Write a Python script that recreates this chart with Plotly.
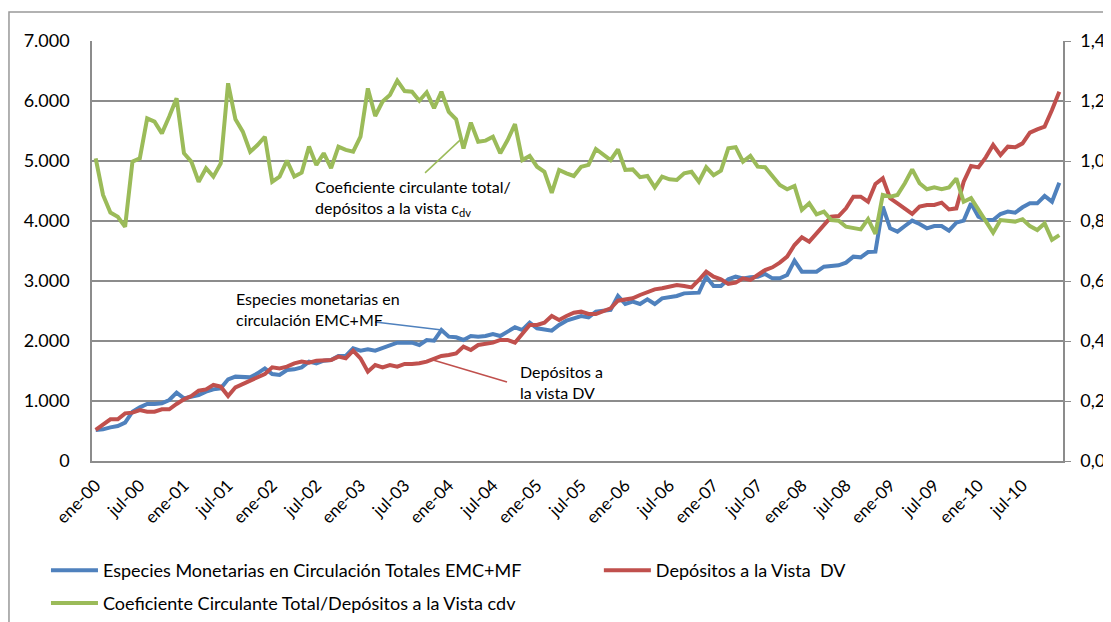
import plotly.graph_objects as go

meses = ["ene", "feb", "mar", "abr", "may", "jun", "jul", "ago", "sep", "oct", "nov", "dic"]
fechas = [f"{m}-{a:02d}" for a in range(0, 11) for m in meses]

tick_labels = ["ene-00", "jul-00", "ene-01", "jul-01", "ene-02", "jul-02", "ene-03", "jul-03",
               "ene-04", "jul-04", "ene-05", "jul-05", "ene-06", "jul-06", "ene-07", "jul-07",
               "ene-08", "jul-08", "ene-09", "jul-09", "ene-10", "jul-10"]

# Especies monetarias en circulacion EMC+MF
emc = [517, 528, 561, 583, 639, 822, 894, 950, 950, 961, 1017, 1139,
       1044, 1072, 1100, 1156, 1194, 1211, 1361, 1406, 1406, 1394, 1461, 1544,
       1450, 1433, 1517, 1528, 1561, 1656, 1628, 1672, 1683, 1750, 1750, 1878,
       1839, 1861, 1839, 1878, 1933, 1972, 1972, 1972, 1933, 2017, 2006, 2183,
       2072, 2061, 2017, 2083, 2072, 2083, 2117, 2083, 2156, 2228, 2183, 2306,
       2211, 2194, 2172, 2267, 2339, 2378, 2417, 2394, 2489, 2506, 2517, 2750,
       2617, 2656, 2617, 2694, 2617, 2711, 2728, 2750, 2794, 2806, 2806, 3072,
       2917, 2917, 3028, 3072, 3044, 3061, 3072, 3117, 3044, 3044, 3100, 3339,
       3156, 3156, 3156, 3239, 3250, 3261, 3306, 3406, 3394, 3483, 3489, 4239,
       3878, 3822, 3917, 4006, 3950, 3878, 3917, 3917, 3839, 3972, 4006, 4294,
       4072, 4017, 4017, 4117, 4156, 4139, 4228, 4294, 4294, 4417, 4322, 4639]

# Depositos a la vista DV
dv = [517, 600, 694, 694, 794, 806, 850, 822, 822, 861, 861, 950,
      1028, 1083, 1172, 1194, 1267, 1239, 1083, 1228, 1283, 1350, 1394, 1450,
      1561, 1544, 1572, 1628, 1656, 1639, 1672, 1683, 1683, 1739, 1711, 1839,
      1711, 1489, 1600, 1561, 1600, 1572, 1617, 1617, 1628, 1656, 1711, 1750,
      1767, 1794, 1906, 1850, 1933, 1950, 1972, 2017, 2017, 1972, 2128, 2267,
      2267, 2306, 2417, 2350, 2417, 2472, 2489, 2450, 2450, 2489, 2544, 2672,
      2700, 2711, 2767, 2822, 2861, 2878, 2906, 2933, 2917, 2894, 3017, 3156,
      3072, 3028, 2950, 2972, 3044, 3017, 3100, 3183, 3228, 3306, 3406, 3600,
      3728, 3656, 3794, 3933, 4072, 4083, 4211, 4406, 4406, 4322, 4617, 4711,
      4378, 4294, 4211, 4117, 4239, 4267, 4267, 4306, 4194, 4211, 4656, 4917,
      4894, 5061, 5267, 5100, 5239, 5228, 5294, 5472, 5528, 5572, 5850, 6156]

# Coeficiente circulante total / depositos a la vista cdv
cdv = [1.009, 0.887, 0.828, 0.814, 0.781, 0.998, 1.009, 1.142, 1.131, 1.092, 1.148, 1.209,
       1.026, 0.998, 0.931, 0.976, 0.948, 0.992, 1.259, 1.139, 1.098, 1.031, 1.053, 1.081,
       0.931, 0.948, 1.001, 0.948, 0.961, 1.048, 0.987, 1.026, 0.976, 1.048, 1.037, 1.031,
       1.081, 1.242, 1.150, 1.198, 1.220, 1.268, 1.233, 1.231, 1.201, 1.229, 1.176, 1.231,
       1.164, 1.139, 1.042, 1.128, 1.064, 1.068, 1.081, 1.026, 1.070, 1.123, 1.003, 1.017,
       0.981, 0.964, 0.894, 0.970, 0.959, 0.950, 0.981, 0.987, 1.040, 1.023, 1.003, 1.039,
       0.970, 0.972, 0.946, 0.950, 0.912, 0.948, 0.939, 0.937, 0.959, 0.964, 0.931, 0.979,
       0.953, 0.968, 1.042, 1.046, 0.998, 1.017, 0.981, 0.979, 0.948, 0.920, 0.906, 0.917,
       0.837, 0.859, 0.822, 0.831, 0.803, 0.801, 0.781, 0.776, 0.772, 0.806, 0.757, 0.887,
       0.881, 0.887, 0.926, 0.972, 0.926, 0.906, 0.912, 0.906, 0.912, 0.942, 0.864, 0.876,
       0.837, 0.803, 0.761, 0.803, 0.800, 0.798, 0.806, 0.783, 0.770, 0.792, 0.737, 0.753]

AZUL = "#4F81BD"
ROJO = "#C0504D"
VERDE = "#9BBB59"
GRIS = "#8C8C8C"
FUENTE = "Lato"

fig = go.Figure()
fig.add_trace(go.Scatter(x=fechas, y=emc, mode="lines", line=dict(color=AZUL, width=4),
                         name="Especies Monetarias en Circulación Totales EMC+MF", legend="legend"))
fig.add_trace(go.Scatter(x=fechas, y=dv, mode="lines", line=dict(color=ROJO, width=4),
                         name="Depósitos a la Vista  DV", legend="legend2"))
fig.add_trace(go.Scatter(x=fechas, y=cdv, mode="lines", line=dict(color=VERDE, width=4),
                         name="Coeficiente Circulante Total/Depósitos a la Vista cdv",
                         yaxis="y2", legend="legend3"))

# notas con lineas guia
notas = [
    dict(x=0.2276, y=0.626, text="Coeficiente circulante total/<br>depósitos a la vista c<sub>dv</sub>"),
    dict(x=0.1462, y=0.362, text="Especies monetarias en<br>circulación EMC+MF"),
    dict(x=0.4387, y=0.187, text="Depósitos a<br>la vista DV"),
]
for n in notas:
    fig.add_annotation(x=n["x"], y=n["y"], xref="paper", yref="paper", text=n["text"],
                       showarrow=False, xanchor="left", yanchor="middle", align="left",
                       font=dict(family=FUENTE, size=16, color="#000000"))

guias = [
    (0.343, 0.686, 0.379, 0.764, VERDE),
    (0.2915, 0.331, 0.3605, 0.312, AZUL),
    (0.3512, 0.2405, 0.4274, 0.188, ROJO),
]
for x0, y0, x1, y1, c in guias:
    fig.add_shape(type="line", xref="paper", yref="paper", x0=x0, y0=y0, x1=x1, y1=y1,
                  line=dict(color=c, width=1.5))

# marco exterior
fig.add_shape(type="rect", xref="paper", yref="paper", x0=-0.0855, y0=1.069, x1=1.2, y1=-0.6,
              line=dict(color="#999999", width=1.5), layer="below")

ley = dict(orientation="h", xanchor="left", yanchor="top", itemwidth=47,
           font=dict(family=FUENTE, size=18), bgcolor="rgba(0,0,0,0)")

# la pagina deja 8 px de margen arriba y a la izquierda
fig.update_layout(
    width=1103, height=614,
    showlegend=True,
    margin=dict(l=84, r=48, t=33, b=161, autoexpand=False),
    paper_bgcolor="white", plot_bgcolor="white",
    separators=",.",
    font=dict(family=FUENTE, size=17, color="#000000"),
    xaxis=dict(type="category", categoryorder="array", categoryarray=fechas,
               tickmode="array", tickvals=tick_labels, ticktext=tick_labels,
               tickangle=-45, showgrid=False, showline=True, linecolor=GRIS, linewidth=1.5,
               ticks="", range=[-0.5, len(fechas) - 0.5], tickfont=dict(size=17),
               ticklabelstandoff=6),
    yaxis=dict(range=[0, 7000], dtick=1000, tickformat=",.0f", showgrid=True,
               gridcolor=GRIS, gridwidth=1.5, showline=True, linecolor=GRIS, linewidth=1.5,
               zeroline=False, ticks="", ticklabelstandoff=17, tickfont=dict(size=18)),
    yaxis2=dict(range=[0, 1.4], dtick=0.2, tickformat=".1f", overlaying="y", side="right",
                showgrid=False, showline=True, linecolor=GRIS, linewidth=1.5, zeroline=False,
                ticks="outside", ticklen=6, tickcolor=GRIS, tickfont=dict(size=18),
                ticklabelstandoff=6),
    legend=dict(ley, x=-0.0474, y=-0.217),
    legend2=dict(ley, x=0.522, y=-0.217),
    legend3=dict(ley, x=-0.0474, y=-0.295),
)

fig.write_html("out.html")
